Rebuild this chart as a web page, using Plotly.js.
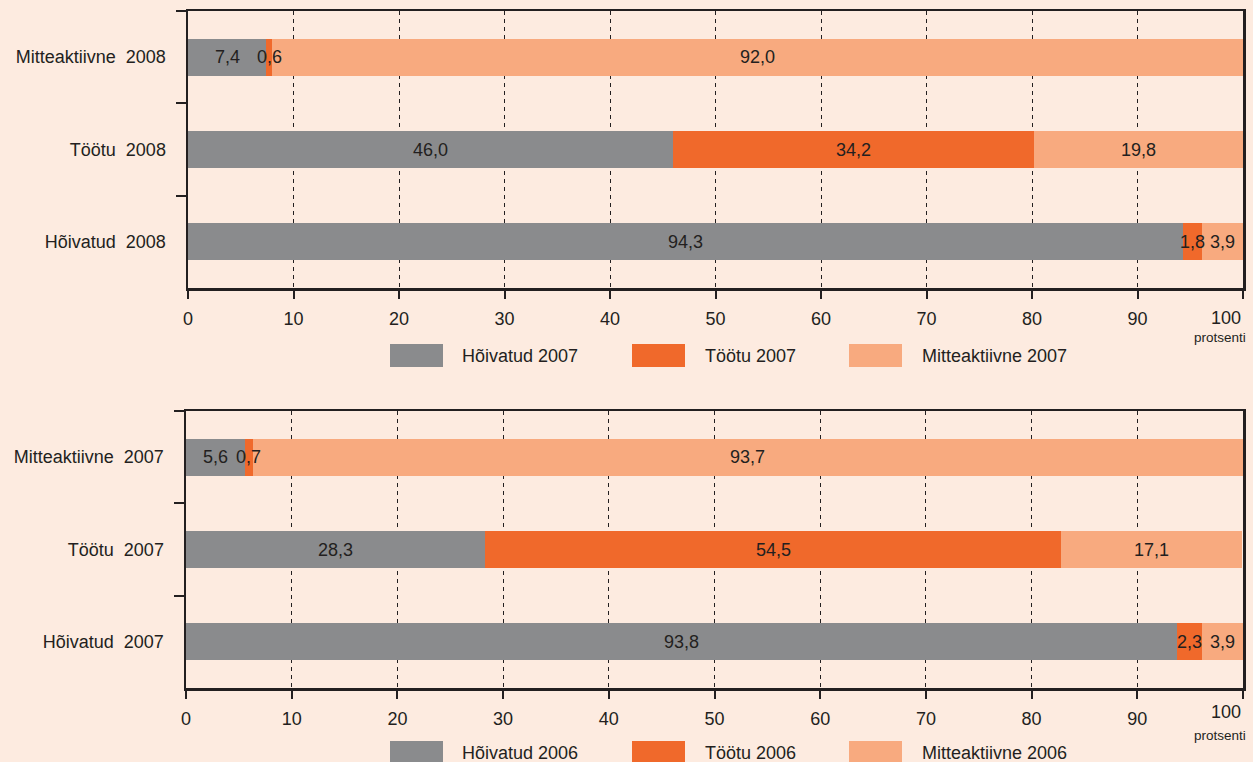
<!DOCTYPE html>
<html><head><meta charset="utf-8">
<script src="https://cdn.plot.ly/plotly-3.0.1.min.js"></script>
<style>html,body{margin:0;padding:0;background:#FDEBE0}</style>
</head><body>
<div id="chart" style="width:1253px;height:762px"></div>
<script>
// Categories (bottom to top)
const categoriesTop = ['Hõivatud\u00a0 2008', 'Töötu\u00a0 2008', 'Mitteaktiivne\u00a0 2008'];
const categoriesBottom = ['Hõivatud\u00a0 2007', 'Töötu\u00a0 2007', 'Mitteaktiivne\u00a0 2007'];

// Series names
const seriesTop = ['Hõivatud 2007', 'Töötu 2007', 'Mitteaktiivne 2007'];
const seriesBottom = ['Hõivatud 2006', 'Töötu 2006', 'Mitteaktiivne 2006'];

// Values (order matches categories)
const hoivatudTop = [94.3, 46.0, 7.4];
const tootuTop = [1.8, 34.2, 0.6];
const mitteTop = [3.9, 19.8, 92.0];

const hoivatudBottom = [93.8, 28.3, 5.6];
const tootuBottom = [2.3, 54.5, 0.7];
const mitteBottom = [3.9, 17.1, 93.7];

const xTicks = [0, 10, 20, 30, 40, 50, 60, 70, 80, 90, 100];
const unitLabel = 'protsenti';

const colors = ['#8A8B8D', '#F0692B', '#F8AA7F'];
const txt = '#231F20';
const FONT = 'Liberation Sans, Arial, sans-serif';
const FS = 18;
const W = 1253, H = 762;
const py = p => 1 - p / H;
const px = p => p / W;

const fmt = v => v.toFixed(1).replace('.', ',');

const traces = [];
const annotations = [];

function addChart(cats, seriesNames, seriesVals, xa, ya, lastLabelY) {
  const cum = cats.map(() => 0);
  seriesVals.forEach((vals, si) => {
    traces.push({
      type: 'bar', orientation: 'h',
      x: vals, y: cats, name: seriesNames[si],
      xaxis: xa, yaxis: ya,
      marker: {color: colors[si], line: {width: 0}},
      showlegend: false, hoverinfo: 'x+y+name'
    });
    vals.forEach((v, ci) => {
      annotations.push({
        xref: xa, yref: ya, x: cum[ci] + v / 2, y: ci,
        text: fmt(v), showarrow: false,
        font: {family: FONT, size: FS, color: txt},
        xanchor: 'center', yanchor: 'middle'
      });
      cum[ci] += v;
    });
  });
  // last tick label kept inside the page (right-aligned at axis end)
  const last = xTicks[xTicks.length - 1];
  annotations.push({
    xref: xa, yref: 'paper', x: last, y: py(lastLabelY),
    text: String(last), showarrow: false, xanchor: 'right', yanchor: 'middle',
    font: {family: FONT, size: FS, color: txt}
  });
}

addChart(categoriesTop, seriesTop, [hoivatudTop, tootuTop, mitteTop], 'x', 'y', 318);
addChart(categoriesBottom, seriesBottom, [hoivatudBottom, tootuBottom, mitteBottom], 'x2', 'y2', 712);

const shapes = [];
// custom legends
const legendBoxX = [390, 632, 849];
const legendTextX = [460, 703, 920];
function addLegend(names, yTop, yBot) {
  names.forEach((n, i) => {
    shapes.push({
      type: 'rect', xref: 'paper', yref: 'paper',
      x0: px(legendBoxX[i]), x1: px(legendBoxX[i] + 53),
      y0: py(yBot), y1: py(yTop),
      fillcolor: colors[i], line: {width: 0}
    });
    annotations.push({
      xref: 'paper', yref: 'paper', x: px(legendTextX[i]), y: py((yTop + yBot) / 2),
      text: n, showarrow: false, xanchor: 'left', yanchor: 'middle',
      font: {family: FONT, size: FS, color: txt}
    });
  });
}
addLegend(seriesTop, 344, 367);
addLegend(seriesBottom, 741, 764);

annotations.push({xref: 'paper', yref: 'paper', x: px(1220), y: py(338), text: unitLabel,
  showarrow: false, xanchor: 'center', yanchor: 'middle', font: {family: FONT, size: 13.5, color: txt}});
annotations.push({xref: 'paper', yref: 'paper', x: px(1220), y: py(735), text: unitLabel,
  showarrow: false, xanchor: 'center', yanchor: 'middle', font: {family: FONT, size: 13.5, color: txt}});

const xBase = {
  range: [0, 100], tickvals: xTicks,
  ticktext: xTicks.map((t, i) => i === xTicks.length - 1 ? '' : String(t)),
  showline: true, mirror: true, linecolor: txt, linewidth: 2.5,
  ticks: 'outside', ticklen: 8, tickwidth: 2, tickcolor: txt,
  showgrid: true, gridcolor: txt, gridwidth: 1, griddash: '4px,4px',
  zeroline: false, fixedrange: true, ticklabelstandoff: 5,
  tickfont: {family: FONT, size: FS, color: txt}
};
const yBase = {
  type: 'category', tickson: 'boundaries', range: [-0.5, 2.5],
  showline: true, mirror: true, linecolor: txt, linewidth: 2.5,
  ticks: 'outside', ticklen: 10, tickwidth: 2, tickcolor: txt,
  showgrid: false, zeroline: false, fixedrange: true, ticklabelstandoff: 16,
  tickfont: {family: FONT, size: FS, color: txt}
};

const layout = {
  width: W, height: H,
  margin: {l: 0, r: 0, t: 0, b: 0},
  paper_bgcolor: '#FDEBE0', plot_bgcolor: 'rgba(0,0,0,0)',
  barmode: 'stack', bargap: 0.6,
  showlegend: false,
  xaxis: Object.assign({}, xBase, {domain: [px(188), px(1243)], anchor: 'y'}),
  yaxis: Object.assign({}, yBase, {domain: [py(288), py(11)], anchor: 'x', categoryarray: categoriesTop, categoryorder: 'array'}),
  xaxis2: Object.assign({}, xBase, {domain: [px(186), px(1243)], anchor: 'y2'}),
  yaxis2: Object.assign({}, yBase, {domain: [py(688), py(411)], anchor: 'x2', categoryarray: categoriesBottom, categoryorder: 'array'}),
  shapes: shapes,
  annotations: annotations,
  font: {family: FONT, color: txt}
};

Plotly.newPlot('chart', traces, layout, {displayModeBar: false, staticPlot: true});
</script>
</body></html>
